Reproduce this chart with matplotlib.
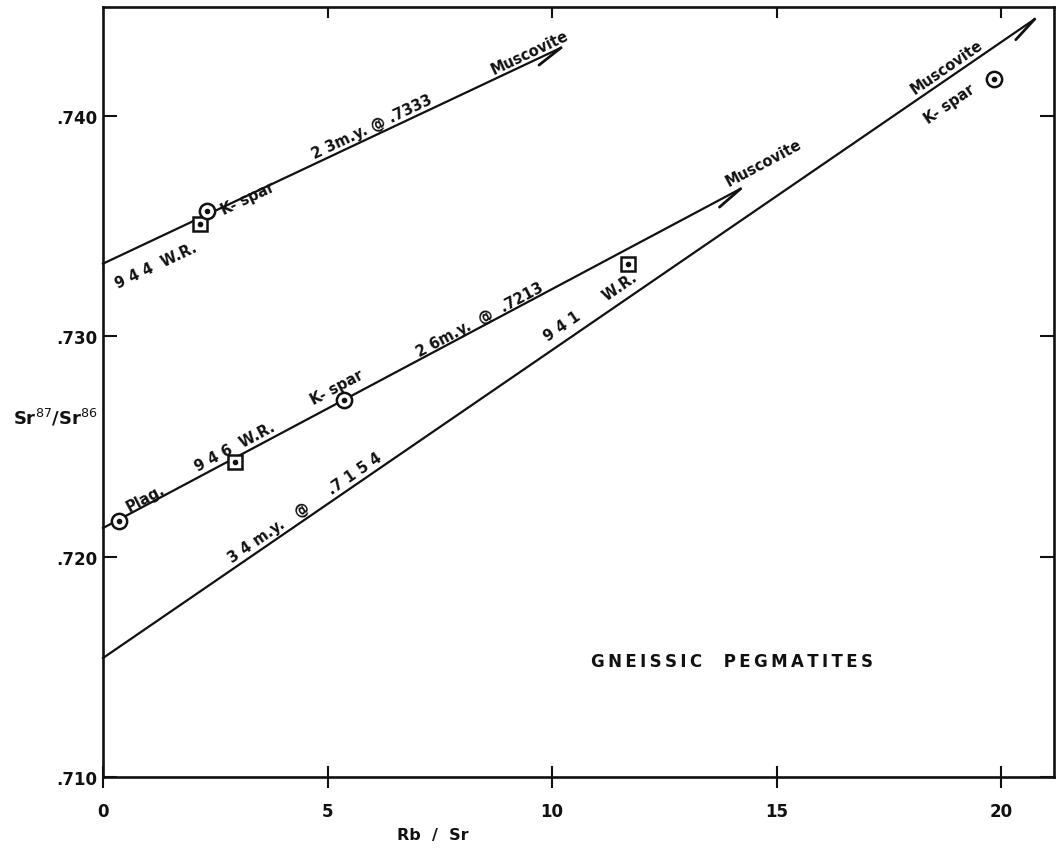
"""Rb/Sr isochron diagram for the gneissic pegmatites (944, 946, 941)."""

import numpy as np
import matplotlib

matplotlib.use("Agg")
import matplotlib.pyplot as plt

# isochron lines: start at Rb/Sr = 0 (initial ratio), end at arrow tip
LINE_NAMES = ["944", "946", "941"]
LINE_X0 = [0.0, 0.0, 0.0]
LINE_Y0 = [0.7333, 0.7213, 0.7154]
LINE_X1 = [10.2, 14.2, 20.75]
LINE_Y1 = [0.7431, 0.7367, 0.7444]

# whole rock samples (squares)
WR_X = [2.16, 2.94, 11.69]
WR_Y = [0.7351, 0.7243, 0.7333]

# mineral samples (circles): K-spar 944, Plag 946, K-spar 946, K-spar 941
MIN_X = [2.31, 0.36, 5.37, 19.84]
MIN_Y = [0.7357, 0.7216, 0.7271, 0.7417]

X_TICKS = [0, 5, 10, 15, 20]
X_TICKLABELS = ["0", "5", "10", "15", "20"]
Y_TICKS = [0.710, 0.720, 0.730, 0.740]
Y_TICKLABELS = [".710", ".720", ".730", ".740"]

# (text, x, y, line index used for the angle)
LABELS = [
    ("9 4 4  W.R.", 1.18, 0.73324, 0),
    ("K- spar", 3.22, 0.73630, 0),
    ("2 3m.y. @ .7333", 5.99, 0.73955, 0),
    ("Muscovite", 9.51, 0.74291, 0),
    ("Plag.", 0.95, 0.72268, 1),
    ("9 4 6  W.R.", 2.94, 0.72503, 1),
    ("K- spar", 5.21, 0.72770, 1),
    ("2 6m.y.  @  .7213", 8.40, 0.73079, 1),
    ("Muscovite", 14.72, 0.73792, 1),
    ("3 4 m.y.   @     .7 1 5 4", 4.50, 0.72226, 2),
    ("9 4 1      W.R.", 10.85, 0.73138, 2),
    ("Muscovite", 18.80, 0.74227, 2),
    ("K- spar", 18.86, 0.74059, 2),
]

TITLE = "GNEISSIC  PEGMATITES"

INK = "#111111"
FONT = "DejaVu Sans"

fig = plt.figure(figsize=(10.56, 8.53), dpi=100)
ax = fig.add_axes([103 / 1056, 75 / 853, 951 / 1056, 770 / 853])
ax.set_xlim(0, 21.18)
ax.set_ylim(0.710, 0.74495)

for s in ax.spines.values():
    s.set_linewidth(1.9)
    s.set_color(INK)

ax.set_xticks(X_TICKS)
ax.set_xticklabels(X_TICKLABELS)
ax.set_yticks(Y_TICKS)
ax.set_yticklabels(Y_TICKLABELS)
ax.tick_params(axis="x", direction="inout", length=16, width=1.5, pad=10,
               labelsize=12, colors=INK)
ax.tick_params(axis="y", direction="in", length=10, width=1.5, pad=4,
               labelsize=12, right=True, colors=INK)
for lab in ax.get_xticklabels() + ax.get_yticklabels():
    lab.set_fontweight("bold")
    lab.set_family(FONT)

# top ticks point inward only
top = ax.twiny()
top.set_xlim(ax.get_xlim())
top.set_xticks(X_TICKS[1:])
top.tick_params(axis="x", direction="in", length=8, width=1.5,
                labeltop=False, colors=INK)
for s in top.spines.values():
    s.set_visible(False)

# isochron lines
for x0, y0, x1, y1 in zip(LINE_X0, LINE_Y0, LINE_X1, LINE_Y1):
    ax.plot([x0, x1], [y0, y1], color=INK, lw=1.6, zorder=2, clip_on=False)

fig.canvas.draw()
trans = ax.transData
inv = trans.inverted()


def line_angle(i):
    p0 = trans.transform((LINE_X0[i], LINE_Y0[i]))
    p1 = trans.transform((LINE_X1[i], LINE_Y1[i]))
    return np.degrees(np.arctan2(p1[1] - p0[1], p1[0] - p0[0]))


# half arrow barbs (below the line) at the Muscovite ends
for i in range(len(LINE_NAMES)):
    p0 = trans.transform((LINE_X0[i], LINE_Y0[i]))
    p1 = trans.transform((LINE_X1[i], LINE_Y1[i]))
    u = (p1 - p0) / np.hypot(*(p1 - p0))
    a = np.radians(13)
    r = np.array([u[0] * np.cos(a) - u[1] * np.sin(a), u[0] * np.sin(a) + u[1] * np.cos(a)])
    b = p1 - 28 * r
    bd = inv.transform(b)
    ax.plot([bd[0], LINE_X1[i]], [bd[1], LINE_Y1[i]], color=INK, lw=2.0,
            zorder=2, clip_on=False, solid_capstyle="round")

# whole rock squares with dots
ax.plot(WR_X, WR_Y, ls="none", marker="s", ms=9.5, mfc="white", mec=INK,
        mew=1.8, zorder=3)
ax.plot(WR_X, WR_Y, ls="none", marker="o", ms=3, color=INK, zorder=4)

# mineral circles with dots
ax.plot(MIN_X, MIN_Y, ls="none", marker="o", ms=11, mfc="white", mec=INK,
        mew=1.8, zorder=3)
ax.plot(MIN_X, MIN_Y, ls="none", marker="o", ms=3, color=INK, zorder=4)

for text, x, y, li in LABELS:
    ax.text(x, y, text, rotation=line_angle(li), rotation_mode="anchor",
            ha="center", va="center", fontsize=10.5, fontweight="bold",
            family=FONT, color=INK)

ax.text(14.0, 0.71527, "\u2009".join(TITLE), ha="center", va="center",
        fontsize=12, fontweight="bold", family=FONT, color=INK)

# axis titles
ax.text(7.35, -0.0753, "Rb  /  Sr", transform=ax.get_xaxis_transform(),
        ha="center", va="center", fontsize=11.5, fontweight="bold",
        family=FONT, color=INK)
ax.text(-1.07, 0.72634, r"Sr$^{87}$/Sr$^{86}$", ha="center", va="center",
        fontsize=13, fontweight="bold", family=FONT, color=INK, clip_on=False)

fig.savefig("out.png", dpi=100, facecolor="white")
